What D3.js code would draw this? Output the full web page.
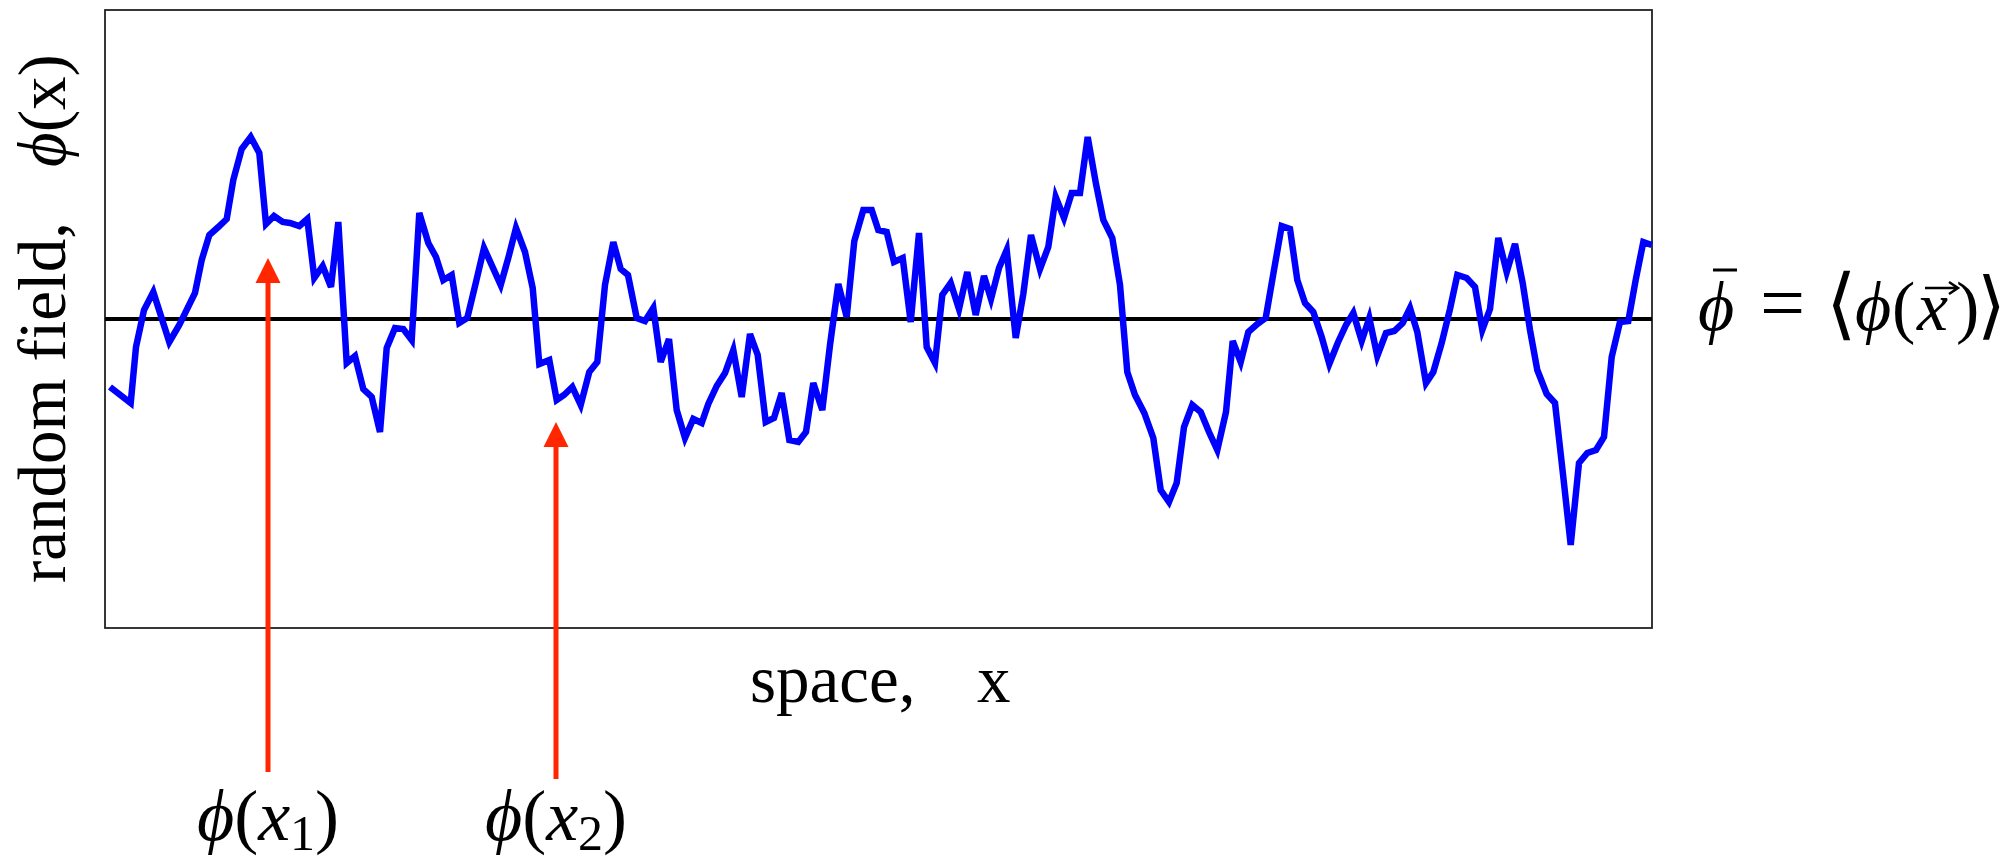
<!DOCTYPE html>
<html lang="en">
<head>
    <meta charset="UTF-8">
    <title>Random field</title>
    <script src="https://d3js.org/d3.v7.min.js"></script>
    <style>
        body { margin: 0; background: #fff; }
        svg { display: block; background: #fff; }
        .label { font-family: "Liberation Serif", "DejaVu Serif", serif; fill: #000; }
        .it { font-style: italic; }
    </style>
</head>
<body>
    <svg id="chart"></svg>

    <script>
        // sample positions along space (arbitrary units) and field values
        const spaceX = [
            0.5, 2.57, 3.1, 3.9, 4.83, 6.43, 7.43, 9.0, 9.67, 10.43, 11.33, 12.17, 12.83, 13.67, 14.57, 15.43,
            16.1, 16.9, 17.77, 18.5, 19.43, 20.23, 20.93, 21.77, 22.6, 23.33, 24.17, 25.0, 25.83, 26.67,
            27.5, 28.17, 29.0, 29.83, 30.67, 31.43, 32.33, 33.1, 33.83, 34.67, 35.43, 36.23, 37.1, 37.9,
            39.57, 40.33, 41.1, 42.0, 42.77, 43.43, 44.43, 45.17, 45.9, 46.73, 47.57, 48.43, 49.23, 50.0,
            50.83, 51.57, 52.3, 53.17, 54.0, 54.83, 55.57, 56.4, 57.17, 58.0, 58.83, 59.67, 60.33, 61.17,
            62.0, 62.83, 63.67, 64.5, 65.27, 66.07, 66.9, 67.67, 68.43, 69.33, 70.1, 70.83, 71.73, 72.5,
            73.33, 74.17, 74.93, 75.83, 76.67, 77.33, 78.17, 78.9, 79.77, 80.57, 81.4, 82.17, 83.0, 83.73,
            84.57, 85.4, 86.23, 87.07, 87.9, 88.6, 89.4, 90.17, 91.07, 91.83, 92.6, 93.5, 94.33, 95.07,
            95.9, 96.67, 97.5, 98.27, 99.1, 99.83, 100.73, 101.5, 102.23, 103.0, 103.93, 104.83, 105.57,
            106.4, 107.17, 107.9, 108.73, 109.57, 110.4, 111.23, 112.1, 112.77, 113.57, 114.33, 115.23,
            116.07, 116.9, 117.67, 118.5, 119.23, 120.0, 120.83, 121.67, 122.43, 123.27, 124.1, 124.83,
            125.67, 126.43, 127.23, 128.1, 128.93, 129.77, 130.5, 131.23, 132.1, 132.83, 133.67, 134.5,
            135.23, 136.17, 137.0, 137.73, 138.5, 139.33, 140.17, 141.0, 141.77, 142.5, 143.23, 144.17,
            145.0, 145.83, 146.57, 147.4, 148.23, 149.1, 149.9, 150.67, 151.5, 152.33, 153.07, 153.83, 154.67
        ];
        const phiValues = [
            -0.68, -0.84, -0.28, 0.09, 0.27, -0.23, -0.06, 0.26, 0.59, 0.84, 0.92, 1.0, 1.39, 1.70, 1.82, 1.66,
            0.95, 1.03, 0.97, 0.96, 0.93, 1.0, 0.41, 0.53, 0.32, 0.97, -0.44, -0.37, -0.70, -0.78,
            -1.13, -0.29, -0.09, -0.10, -0.21, 1.06, 0.76, 0.62, 0.39, 0.44, -0.04, 0.01, 0.37, 0.71,
            0.34, 0.61, 0.91, 0.67, 0.31, -0.45, -0.41, -0.81, -0.76, -0.68, -0.86, -0.53, -0.43, 0.34,
            0.77, 0.50, 0.44, 0.01, -0.02, 0.11, -0.43, -0.20, -0.91, -1.19, -1.00, -1.04, -0.85, -0.67,
            -0.54, -0.31, -0.78, -0.15, -0.36, -1.03, -0.99, -0.74, -1.21, -1.23, -1.13, -0.64, -0.91, -0.26,
            0.35, 0.02, 0.78, 1.09, 1.09, 0.89, 0.87, 0.57, 0.61, -0.03, 0.86, -0.28, -0.44, 0.24,
            0.36, 0.10, 0.47, 0.04, 0.43, 0.20, 0.51, 0.69, -0.19, 0.25, 0.84, 0.50, 0.72, 1.22,
            1.01, 1.26, 1.26, 1.82, 1.35, 0.99, 0.81, 0.34, -0.53, -0.76, -0.94, -1.19, -1.71,
            -1.83, -1.64, -1.08, -0.86, -0.93, -1.13, -1.31, -0.93, -0.22, -0.43, -0.13, -0.05,
            0.01, 0.49, 0.93, 0.90, 0.39, 0.16, 0.07, -0.18, -0.45, -0.24, -0.06, 0.06,
            -0.22, 0.01, -0.37, -0.14, -0.12, -0.04, 0.11, -0.13, -0.64, -0.53, -0.24, 0.10,
            0.44, 0.41, 0.32, -0.11, 0.10, 0.81, 0.47, 0.75, 0.36, -0.11, -0.51, -0.75,
            -0.84, -1.58, -2.26, -1.44, -1.34, -1.31, -1.18, -0.38, -0.03, -0.02, 0.39, 0.77, 0.74
        ];
        const meanPhi = 0;

        // the two marked points: position, arrow tip value, arrow tail value, label subscript
        const markX = [16.3, 45.1];
        const markTip = [0.61, -1.03];
        const markTail = [-4.53, -4.6];
        const markSub = ["1", "2"];

        const data = spaceX.map((x, i) => ({ x: x, phi: phiValues[i] }));

        const totalW = 2009, totalH = 864;
        const margin = { top: 10, right: 357, bottom: 236, left: 105 };
        const width = totalW - margin.left - margin.right;   // 1547
        const height = totalH - margin.top - margin.bottom;  // 618

        const svg = d3.select("#chart")
            .attr("width", totalW)
            .attr("height", totalH);

        const g = svg.append("g")
            .attr("transform", `translate(${margin.left},${margin.top})`);

        const xScale = d3.scaleLinear().domain([0, 154.7]).range([0, width]);
        const yScale = d3.scaleLinear().domain([-3.09, 3.09]).range([height, 0]);

        // frame
        g.append("rect")
            .attr("x", 0).attr("y", 0)
            .attr("width", width).attr("height", height)
            .attr("fill", "none")
            .attr("stroke", "#222")
            .attr("stroke-width", 1.8);

        // mean line
        g.append("line")
            .attr("x1", 0).attr("x2", width)
            .attr("y1", yScale(meanPhi)).attr("y2", yScale(meanPhi))
            .attr("stroke", "#000")
            .attr("stroke-width", 4);

        // the field
        const line = d3.line().x(d => xScale(d.x)).y(d => yScale(d.phi));
        g.append("path")
            .datum(data)
            .attr("d", line)
            .attr("fill", "none")
            .attr("stroke", "#0000ff")
            .attr("stroke-width", 6.5)
            .attr("stroke-linejoin", "miter");

        // red arrows pointing at phi(x1), phi(x2)
        const red = "#ff2600";
        markX.forEach((mx, i) => {
            const ax = xScale(mx);
            const tip = yScale(markTip[i]);
            g.append("line")
                .attr("x1", ax).attr("x2", ax)
                .attr("y1", tip + 20).attr("y2", yScale(markTail[i]))
                .attr("stroke", red)
                .attr("stroke-width", 5);
            g.append("path")
                .attr("d", `M${ax},${tip} L${ax - 12.5},${tip + 25} L${ax + 12.5},${tip + 25} Z`)
                .attr("fill", red);

            const lab = g.append("text")
                .attr("class", "label")
                .attr("x", ax)
                .attr("y", 830)
                .attr("text-anchor", "middle")
                .attr("font-size", 72);
            lab.append("tspan").attr("class", "it").text("ϕ");
            lab.append("tspan").text("(");
            lab.append("tspan").attr("class", "it").text("x");
            lab.append("tspan").attr("font-size", 50).attr("dy", 10).text(markSub[i]);
            lab.append("tspan").attr("dy", -10).text(")");
        });

        // axis titles
        svg.append("text")
            .attr("class", "label")
            .attr("font-size", 67)
            .attr("transform", "translate(65,583) rotate(-90)")
            .text("random field,");
        const yt = svg.append("text")
            .attr("class", "label")
            .attr("font-size", 67)
            .attr("transform", "translate(65,167) rotate(-90)");
        yt.append("tspan").attr("class", "it").text("ϕ");
        yt.append("tspan").text("(x)");

        svg.append("text")
            .attr("class", "label")
            .attr("font-size", 67)
            .attr("x", 750).attr("y", 702)
            .text("space,");
        svg.append("text")
            .attr("class", "label")
            .attr("font-size", 67)
            .attr("x", 977).attr("y", 702)
            .text("x");

        // mean label on the right
        const rl = svg.append("text")
            .attr("class", "label")
            .attr("font-size", 70)
            .attr("y", 330);
        rl.append("tspan").attr("class", "it").attr("x", 1698).text("ϕ");
        rl.append("tspan").attr("x", 1760).attr("font-size", 80).text("=");
        rl.append("tspan").attr("x", 1826).attr("font-size", 78).text("⟨");
        rl.append("tspan").attr("class", "it").attr("x", 1855).text("ϕ");
        rl.append("tspan").attr("x", 1892).text("(");
        rl.append("tspan").attr("class", "it").attr("x", 1917).text("x");
        rl.append("tspan").attr("x", 1956).text(")");
        rl.append("tspan").attr("x", 1977).attr("font-size", 74).text("⟩");

        // bar over phi and vector arrow over x
        svg.append("line")
            .attr("x1", 1713).attr("x2", 1737)
            .attr("y1", 270).attr("y2", 270)
            .attr("stroke", "#000").attr("stroke-width", 3);
        svg.append("path")
            .attr("d", "M1925,288 H1957 M1949,282 L1958,288 L1949,294")
            .attr("fill", "none")
            .attr("stroke", "#000").attr("stroke-width", 2.5);
    </script>
</body>
</html>
